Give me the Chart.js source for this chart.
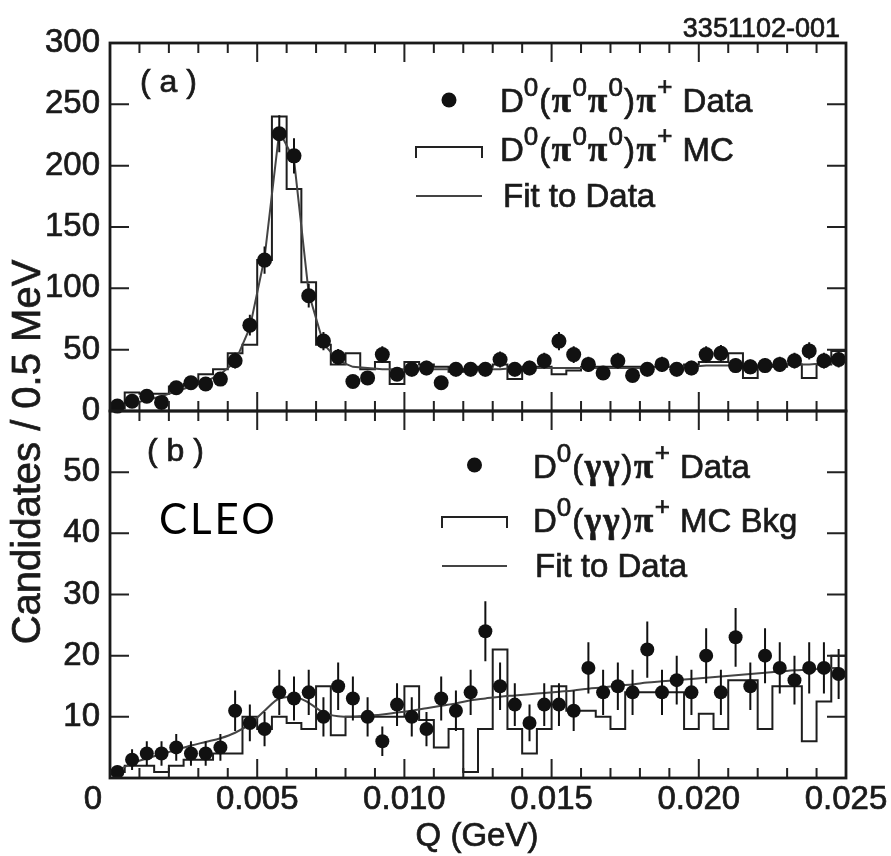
<!DOCTYPE html>
<html><head><meta charset="utf-8">
<script src="https://cdn.jsdelivr.net/npm/chart.js@4/dist/chart.umd.min.js"></script>
<style>
html,body{margin:0;padding:0;background:#fff;}
#wrap{position:relative;width:891px;height:856px;background:#fff;}
canvas{position:absolute;left:0;top:0;}
</style></head><body>
<div id="wrap"><canvas id="cTop" width="891" height="856"></canvas><canvas id="cBot" width="891" height="856"></canvas></div>
<script>
// ---- data (Q in GeV, bin centres of 0.5 MeV bins) ----
const qCenters = [0.00025,0.00075,0.00125,0.00175,0.00225,0.00275,0.00325,0.00375,0.00425,0.00475,
  0.00525,0.00575,0.00625,0.00675,0.00725,0.00775,0.00825,0.00875,0.00925,0.00975,
  0.01025,0.01075,0.01125,0.01175,0.01225,0.01275,0.01325,0.01375,0.01425,0.01475,
  0.01525,0.01575,0.01625,0.01675,0.01725,0.01775,0.01825,0.01875,0.01925,0.01975,
  0.02025,0.02075,0.02125,0.02175,0.02225,0.02275,0.02325,0.02375,0.02425,0.02475];

// (a) D0(pi0 pi0) pi+
const topData = [4,8,12,7,19,23,22,26,41,70,123,226,208,94,57,44,24,27,46,30,34,35,23,34,34,34,42,34,35,41,57,46,38,31,41,29,34,38,34,35,46,47,37,36,37,38,41,49,41,42];
const topErr  = [2,2.8,3.5,2.6,4.4,4.8,4.7,5.1,6.4,8.4,11.1,15,14.4,9.7,7.5,6.6,4.9,5.2,6.8,5.5,5.8,5.9,4.8,5.8,5.8,5.8,6.5,5.8,5.9,6.4,7.5,6.8,6.2,5.6,6.4,5.4,5.8,6.2,5.8,5.9,6.8,6.9,6.1,6,6.1,6.2,6.4,7,6.4,6.5];
const topMC   = [2,15,14,14,20,22,30,34,47,54,123,240,181,105,54,38,47,34,40,22,40,38,36,32,34,36,38,26,36,36,30,33,36,36,36,36,36,36,36,38,40,40,47,27,36,36,38,27,38,49];
const topFit  = [3,6,9,12,16,20,24,30,40,68,125,228,205,96,55,41,36,35,34,34,34,34,34,34,34,34,34,35,35,35,35,35,35,35,35,35,35,36,36,36,37,37,37,37,37,38,38,38,39,39];

// (b) D0(gamma gamma) pi+
const botData = [1,3,4,4,5,4,4,5,11,9,8,14,13,14,10,15,13,10,6,12,10,8,13,11,14,24,15,12,9,12,12,11,18,14,15,14,21,14,16,14,20,14,23,15,20,18,16,18,18,17];
const botErr  = [1,1.7,2,2,2.2,2,2,2.2,3.3,3,2.8,3.7,3.6,3.7,3.2,3.9,3.6,3.2,2.4,3.5,3.2,2.8,3.6,3.3,3.7,4.9,3.9,3.5,3,3.5,3.5,3.3,4.2,3.7,3.9,3.7,4.6,3.7,4,3.7,4.5,3.7,4.8,3.9,4.5,4.2,4,4.2,4.2,4.1];
const botMC   = [1,2,2,1,2,3,3,4,4,10,8,10,9,8,15,7,10,10,10,10,15,9.5,5,8,1,8,21,8,4,8,15,11,11,10,8,14,14,14,14,8,10.5,8,16,16,8,15,15,6,12.5,20];
const botFit  = [1.2,2.4,3.2,3.9,4.6,5.3,5.9,6.5,7.4,8.8,11,13,13.3,12.3,10.7,10.1,10,10.2,10.4,10.7,11,11.4,11.8,12.2,12.7,13,13.3,13.5,13.7,13.9,14.1,14.3,14.6,14.8,15.1,15.3,15.6,15.8,16,16.2,16.4,16.6,16.8,17,17.2,17.4,17.6,17.7,17.9,18];

// ticks
const xRange = [0, 0.025];
const xTickValues = [0,0.001,0.002,0.003,0.004,0.005,0.006,0.007,0.008,0.009,0.010,0.011,0.012,0.013,0.014,0.015,0.016,0.017,0.018,0.019,0.020,0.021,0.022,0.023,0.024,0.025];
const xLabelValues = [0.005,0.010,0.015,0.020,0.025];
const topYTicks = [0,50,100,150,200,250,300];
const botYTicks = [10,20,30,40,50];

// ---- helpers ----
const SANS = '"Liberation Sans", Arial, Helvetica, sans-serif';
const SERIF = '"Liberation Serif", "Times New Roman", serif';
const INK = '#1a1a1a';
const STROKE_W = 0.7;
const pts = vals => vals.map((v,i) => ({x: qCenters[i], y: v}));
const histPts = vals => [{x: xRange[0], y: vals[0]}, ...pts(vals), {x: xRange[1], y: vals[vals.length-1]}];

function txt(ctx, s, x, y) {
  ctx.fillText(s, x, y);
  ctx.lineWidth = STROKE_W; ctx.strokeStyle = ctx.fillStyle;
  ctx.strokeText(s, x, y);
}
function drawRich(ctx, x, baseline, parts) {
  let cx = x;
  ctx.textAlign = 'left';
  ctx.textBaseline = 'alphabetic';
  for (const p of parts) {
    ctx.font = p.f;
    cx += p.pre || 0;
    txt(ctx, p.t, cx, baseline + (p.dy || 0));
    cx += ctx.measureText(p.t).width + (p.post || 0);
  }
}
const F_MAIN = '33px ' + SANS;
const F_SUP = '26px ' + SANS;
const F_GR = 'bold 35px ' + SERIF;
const D = {t:'D', f:F_MAIN};
const SUP0 = {t:'0', f:F_SUP, dy:-16, post:1};
const SUPP = {t:'+', f:F_SUP, dy:-17, post:1};
const LP = {t:'(', f:F_MAIN, post:1.5};
const RP = {t:')', f:F_MAIN, post:1.5};
const PI = {t:'\u03C0', f:F_GR, post:1.5};
const GA = {t:'\u03B3', f:F_GR, post:2};

// frame with inward ticks on all four sides
const framePlugin = {
  id: 'frame',
  afterDraw(chart, args, o) {
    const {ctx, chartArea: a} = chart;
    const xs = chart.scales.x, ys = chart.scales.y;
    ctx.save();
    ctx.strokeStyle = '#222';
    ctx.lineWidth = 2;
    ctx.beginPath();
    for (const v of xTickValues) {
      const px = xs.getPixelForValue(v);
      if (px <= a.left + 1 || px >= a.right - 1) continue;
      const major = Math.abs(v / 0.005 - Math.round(v / 0.005)) < 1e-6;
      const len = major ? o.majorLen : o.minorLen;
      ctx.moveTo(px, a.top); ctx.lineTo(px, a.top + len);
      ctx.moveTo(px, a.bottom); ctx.lineTo(px, a.bottom - len);
    }
    for (const v of o.yTicks) {
      const py = ys.getPixelForValue(v);
      if (py <= a.top + 1 || py >= a.bottom - 1) continue;
      ctx.moveTo(a.left, py); ctx.lineTo(a.left + o.yLen, py);
      ctx.moveTo(a.right, py); ctx.lineTo(a.right - o.yLen, py);
    }
    ctx.stroke();
    ctx.lineWidth = 2.8;
    ctx.strokeStyle = '#1a1a1a';
    ctx.strokeRect(a.left, a.top, a.right - a.left, a.bottom - a.top);
    ctx.restore();
  }
};

// vertical error bars for datasets carrying an "errors" array
const errorBarPlugin = {
  id: 'errbars',
  beforeDatasetDraw(chart, args) {
    const ds = chart.data.datasets[args.index];
    if (!ds.errors) return;
    const ys = chart.scales.y;
    const ctx = chart.ctx;
    ctx.save();
    ctx.strokeStyle = '#111';
    ctx.lineWidth = 2;
    ctx.beginPath();
    args.meta.data.forEach((el, i) => {
      const v = ds.data[i].y, e = ds.errors[i];
      ctx.moveTo(el.x, ys.getPixelForValue(v - e));
      ctx.lineTo(el.x, ys.getPixelForValue(v + e));
    });
    ctx.stroke();
    ctx.restore();
  }
};

function legendMarkers(ctx, x1, x2, yDot, yBr, yLine) {
  ctx.save();
  ctx.fillStyle = '#111';
  ctx.beginPath(); ctx.arc((x1 + x2) / 2, yDot, 7.5, 0, Math.PI * 2); ctx.fill();
  ctx.strokeStyle = '#222'; ctx.lineWidth = 2;
  ctx.beginPath(); ctx.moveTo(x1, yBr + 11); ctx.lineTo(x1, yBr); ctx.lineTo(x2, yBr); ctx.lineTo(x2, yBr + 11); ctx.stroke();
  ctx.strokeStyle = '#444'; ctx.lineWidth = 2;
  ctx.beginPath(); ctx.moveTo(x1, yLine); ctx.lineTo(x2, yLine); ctx.stroke();
  ctx.restore();
}

const topAnnot = {
  id: 'topAnnot',
  afterDraw(chart) {
    const ctx = chart.ctx;
    ctx.save();
    ctx.fillStyle = INK;
    ctx.font = '27px ' + SANS; ctx.textAlign = 'right'; ctx.textBaseline = 'alphabetic';
    txt(ctx, '3351102-001', 840, 37);
    ctx.font = '32px ' + SANS; ctx.textAlign = 'left';
    txt(ctx, '( a )', 140, 92);
    // y axis title (shared by both panels)
    ctx.save();
    ctx.translate(40, 452); ctx.rotate(-Math.PI / 2);
    ctx.font = '40px ' + SANS; ctx.textAlign = 'center'; ctx.textBaseline = 'alphabetic';
    txt(ctx, 'Candidates / 0.5 MeV', 0, 0);
    ctx.restore();
    legendMarkers(ctx, 416, 482, 100, 147, 196);
    ctx.fillStyle = INK;
    drawRich(ctx, 500, 112, [D, SUP0, LP, PI, SUP0, PI, SUP0, RP, PI, SUPP, {t:' Data', f:F_MAIN}]);
    drawRich(ctx, 500, 161, [D, SUP0, LP, PI, SUP0, PI, SUP0, RP, PI, SUPP, {t:' MC', f:F_MAIN}]);
    drawRich(ctx, 503, 207, [{t:'Fit to Data', f:F_MAIN}]);
    ctx.restore();
  }
};

const botAnnot = {
  id: 'botAnnot',
  afterDraw(chart) {
    const ctx = chart.ctx;
    const xs = chart.scales.x;
    ctx.save();
    ctx.fillStyle = INK;
    ctx.font = '32px ' + SANS; ctx.textAlign = 'left'; ctx.textBaseline = 'alphabetic';
    txt(ctx, '( b )', 147, 461);
    ctx.font = '33px ' + SANS; ctx.textAlign = 'center'; ctx.textBaseline = 'middle';
    txt(ctx, '0', xs.getPixelForValue(0) - 17, 800);
    txt(ctx, 'Q (GeV)', 477, 837);
    // CLEO logo text
    ctx.font = '42px Lato, "Open Sans", sans-serif'; ctx.textAlign = 'left'; ctx.textBaseline = 'alphabetic';
    ctx.letterSpacing = '3px';
    ctx.fillStyle = '#000';
    ctx.fillText('CLEO', 159, 534);
    ctx.letterSpacing = '0px';
    legendMarkers(ctx, 442, 507, 465, 517, 566);
    ctx.fillStyle = INK;
    drawRich(ctx, 533, 478, [D, SUP0, LP, GA, GA, RP, PI, SUPP, {t:' Data', f:F_MAIN}]);
    drawRich(ctx, 533, 532, [D, SUP0, LP, GA, GA, RP, PI, SUPP, {t:' MC Bkg', f:F_MAIN}]);
    drawRich(ctx, 535, 577, [{t:'Fit to Data', f:F_MAIN}]);
    ctx.restore();
  }
};

const baseOpts = { responsive: false, animation: false, devicePixelRatio: 1, events: [] };
function yAxis(max, step, labels) {
  return {
    type: 'linear', min: 0, max: max,
    ticks: { stepSize: step, padding: 10, autoSkip: false, color: INK,
      textStrokeColor: INK, textStrokeWidth: STROKE_W,
      font: { family: SANS, size: 33 },
      callback: v => labels.includes(v) ? String(v) : '' },
    grid: { display: false, drawTicks: false },
    border: { display: false },
    afterFit(s) { s.width = 110; }
  };
}
function datasets(data, err, mc, fit, r, smooth) {
  return [
    { label: 'Data', data: pts(data), errors: err, showLine: false, pointRadius: r,
      pointBackgroundColor: '#111', pointBorderWidth: 0, pointHoverRadius: r, order: 0, clip: false },
    { label: 'Fit to Data', data: pts(fit), showLine: true, pointRadius: 0, borderColor: '#444',
      borderWidth: 2, tension: smooth ? 0.4 : 0, cubicInterpolationMode: smooth ? 'monotone' : 'default', order: 1 },
    { label: 'MC', data: histPts(mc), showLine: true, stepped: 'middle', pointRadius: 0,
      borderColor: '#1e1e1e', borderWidth: 2, order: 2 }
  ];
}

new Chart(document.getElementById('cTop'), {
  type: 'scatter',
  data: { datasets: datasets(topData, topErr, topMC, topFit, 7.5, false) },
  options: Object.assign({}, baseOpts, {
    layout: { padding: { top: 43, right: 45, bottom: 445, left: 0 } },
    scales: {
      x: { type: 'linear', min: xRange[0], max: xRange[1], display: false },
      y: yAxis(300, 50, topYTicks)
    },
    plugins: { legend: { display: false }, tooltip: { enabled: false },
      frame: { yTicks: topYTicks, yLen: 19, majorLen: 19, minorLen: 10 } }
  }),
  plugins: [framePlugin, errorBarPlugin, topAnnot]
});

new Chart(document.getElementById('cBot'), {
  type: 'scatter',
  data: { datasets: datasets(botData, botErr, botMC, botFit, 7, true) },
  options: Object.assign({}, baseOpts, {
    layout: { padding: { top: 411, right: 45, bottom: 0, left: 0 } },
    scales: {
      x: { type: 'linear', min: xRange[0], max: xRange[1],
        ticks: { stepSize: 0.005, padding: 2, autoSkip: false, maxRotation: 0, color: INK,
          textStrokeColor: INK, textStrokeWidth: STROKE_W,
          font: { family: SANS, size: 33 },
          callback: v => xLabelValues.some(t => Math.abs(t - v) < 1e-9) ? v.toFixed(3) : '' },
        grid: { display: false, drawTicks: false }, border: { display: false },
        afterFit(s) { s.height = 78; } },
      y: yAxis(60, 10, botYTicks)
    },
    plugins: { legend: { display: false }, tooltip: { enabled: false },
      frame: { yTicks: botYTicks, yLen: 19, majorLen: 19, minorLen: 10 } }
  }),
  plugins: [framePlugin, errorBarPlugin, botAnnot]
});
</script>
</body></html>
